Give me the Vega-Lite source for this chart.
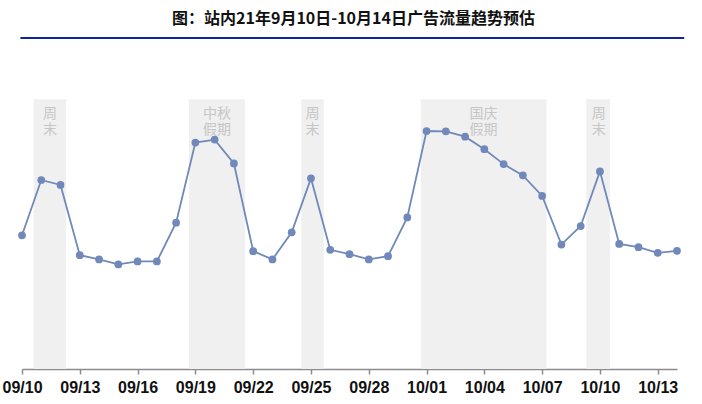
{
  "$schema": "https://vega.github.io/schema/vega-lite/v6.json",
  "width": 655,
  "height": 331,
  "autosize": "none",
  "padding": {"left": 22, "top": 38, "right": 25, "bottom": 35},
  "background": "white",
  "view": {"stroke": null},
  "title": {
    "text": "图：站内21年9月10日-10月14日广告流量趋势预估",
    "font": "Noto Sans CJK SC",
    "fontSize": 16,
    "fontWeight": "bold",
    "color": "#111111",
    "anchor": "middle",
    "baseline": "alphabetic",
    "offset": 12,
    "dx": 4,
    "dy": 15
  },
  "datasets": {
    "traffic": [
      {"date": "2021-09-10", "v": 40.4},
      {"date": "2021-09-11", "v": 57.1},
      {"date": "2021-09-12", "v": 55.6},
      {"date": "2021-09-13", "v": 34.4},
      {"date": "2021-09-14", "v": 33.1},
      {"date": "2021-09-15", "v": 31.6},
      {"date": "2021-09-16", "v": 32.5},
      {"date": "2021-09-17", "v": 32.5},
      {"date": "2021-09-18", "v": 44.2},
      {"date": "2021-09-19", "v": 68.4},
      {"date": "2021-09-20", "v": 69.3},
      {"date": "2021-09-21", "v": 62.1},
      {"date": "2021-09-22", "v": 35.6},
      {"date": "2021-09-23", "v": 33.1},
      {"date": "2021-09-24", "v": 41.3},
      {"date": "2021-09-25", "v": 57.6},
      {"date": "2021-09-26", "v": 36.0},
      {"date": "2021-09-27", "v": 34.7},
      {"date": "2021-09-28", "v": 33.1},
      {"date": "2021-09-29", "v": 34.1},
      {"date": "2021-09-30", "v": 45.8},
      {"date": "2021-10-01", "v": 71.9},
      {"date": "2021-10-02", "v": 71.8},
      {"date": "2021-10-03", "v": 70.2},
      {"date": "2021-10-04", "v": 66.4},
      {"date": "2021-10-05", "v": 61.9},
      {"date": "2021-10-06", "v": 58.5},
      {"date": "2021-10-07", "v": 52.3},
      {"date": "2021-10-08", "v": 37.6},
      {"date": "2021-10-09", "v": 43.2},
      {"date": "2021-10-10", "v": 59.7},
      {"date": "2021-10-11", "v": 37.8},
      {"date": "2021-10-12", "v": 36.8},
      {"date": "2021-10-13", "v": 35.1},
      {"date": "2021-10-14", "v": 35.7}
    ],
    "periods": [
      {"start": "2021-09-10T14:30:00Z", "end": "2021-09-12T07:00:00Z", "mid": "2021-09-11T11:00:00Z", "label": ["周", "末"]},
      {"start": "2021-09-18T16:00:00Z", "end": "2021-09-21T14:00:00Z", "mid": "2021-09-20T03:00:00Z", "label": ["中秋", "假期"]},
      {"start": "2021-09-24T12:00:00Z", "end": "2021-09-25T16:00:00Z", "mid": "2021-09-25T02:00:00Z", "label": ["周", "末"]},
      {"start": "2021-09-30T17:00:00Z", "end": "2021-10-07T05:30:00Z", "mid": "2021-10-03T23:00:00Z", "label": ["国庆", "假期"]},
      {"start": "2021-10-09T07:00:00Z", "end": "2021-10-10T12:30:00Z", "mid": "2021-10-09T22:30:00Z", "label": ["周", "末"]}
    ],
    "header": [
      {"from": "2021-09-09T22:00:00Z", "to": "2021-10-14T09:00:00Z"}
    ]
  },
  "layer": [
    {
      "data": {"name": "periods"},
      "mark": {"type": "rect", "color": "#f0f0f0"},
      "encoding": {
        "x": {"field": "start", "type": "temporal"},
        "x2": {"field": "end"},
        "y": {"datum": 0},
        "y2": {"datum": 81.5}
      }
    },
    {
      "data": {"name": "periods"},
      "mark": {
        "type": "text",
        "font": "Noto Sans CJK SC",
        "fontSize": 14,
        "color": "#c6c6c6",
        "baseline": "top",
        "align": "center",
        "lineHeight": 16
      },
      "encoding": {
        "x": {"field": "mid", "type": "temporal"},
        "y": {"datum": 79.2},
        "text": {"field": "label"}
      }
    },
    {
      "data": {"name": "header"},
      "mark": {"type": "rule", "color": "#10249c", "strokeWidth": 2},
      "encoding": {
        "x": {"field": "from", "type": "temporal"},
        "x2": {"field": "to"},
        "y": {"datum": 100}
      }
    },
    {
      "data": {"name": "traffic"},
      "mark": {"type": "line", "color": "#7089ba", "strokeWidth": 1.8},
      "encoding": {
        "x": {"field": "date", "type": "temporal"},
        "y": {"field": "v", "type": "quantitative"}
      }
    },
    {
      "data": {"name": "traffic"},
      "mark": {"type": "circle", "color": "#7089ba", "size": 60, "opacity": 1},
      "encoding": {
        "x": {"field": "date", "type": "temporal"},
        "y": {"field": "v", "type": "quantitative"}
      }
    }
  ],
  "resolve": {"scale": {"x": "shared", "y": "shared"}},
  "encoding": {
    "x": {
      "scale": {
        "type": "utc",
        "nice": false,
        "domain": [
          {"year": 2021, "month": 9, "date": 10, "utc": true},
          {"year": 2021, "month": 10, "date": 14, "utc": true}
        ]
      },
      "axis": {
        "title": null,
        "format": "%m/%d",
        "tickCount": {"interval": "day", "step": 3},
        "grid": false,
        "domainColor": "#8c8c8c",
        "domainWidth": 1.5,
        "tickColor": "#8c8c8c",
        "tickWidth": 1.5,
        "tickSize": 5,
        "labelFont": "Liberation Sans",
        "labelFontSize": 16,
        "labelFontWeight": "bold",
        "labelColor": "#111111",
        "labelPadding": 5,
        "labelOverlap": false,
        "labelFlush": false
      }
    },
    "y": {
      "scale": {"domain": [0, 100], "nice": false, "zero": true},
      "axis": null
    }
  }
}
